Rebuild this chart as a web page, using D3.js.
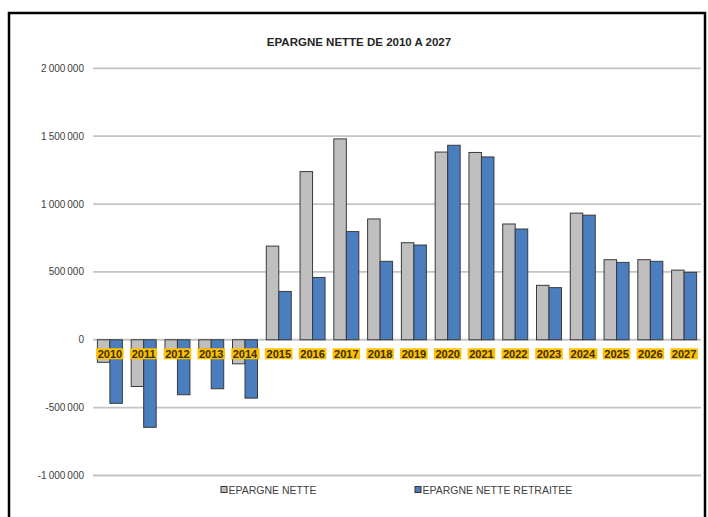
<!DOCTYPE html>
<html>
<head>
<meta charset="utf-8">
<title>Epargne nette</title>
<script src="https://d3js.org/d3.v7.min.js"></script>
<style>
  body { margin: 0; background: #fff; }
  svg { display: block; font-family: "Liberation Sans Narrow", "Liberation Sans", Arial, sans-serif; }
</style>
</head>
<body>
<svg id="chart" width="708" height="517"></svg>
<script>
// values
const years = ["2010","2011","2012","2013","2014","2015","2016","2017","2018",
               "2019","2020","2021","2022","2023","2024","2025","2026","2027"];
const epargneNette = [-166000, -344000, -75000, -70000, -177000, 690000, 1239000, 1480000, 890000,
                      715000, 1383000, 1380000, 853000, 401000, 933000, 590000, 590000, 513000];
const epargneRetraitee = [-468000, -645000, -405000, -361000, -430000, 356000, 459000, 797000, 578000,
                          698000, 1433000, 1347000, 816000, 384000, 918000, 570000, 578000, 497000];
const yTicks = [-1000000, -500000, 0, 500000, 1000000, 1500000, 2000000];
const seriesNames = ["EPARGNE NETTE", "EPARGNE NETTE RETRAITEE"];
const colors = ["#bfbfbf", "#4a7ebf"];

const svg = d3.select("#chart");

// outer frame
svg.append("rect")
    .attr("x", 9).attr("y", 13)
    .attr("width", 696).attr("height", 520)
    .attr("fill", "none")
    .attr("stroke", "#000")
    .attr("stroke-width", 2.5);

svg.append("text")
    .attr("x", 359).attr("y", 46)
    .attr("text-anchor", "middle")
    .attr("font-family", "Liberation Sans, Arial, sans-serif")
    .attr("font-weight", "bold")
    .attr("font-size", 11.5)
    .attr("fill", "#262626")
    .text("EPARGNE NETTE DE 2010 A 2027");

const left = 93, right = 701;
const y = d3.scaleLinear().domain([-1000000, 2000000]).range([475.5, 68.3]);
const x0 = d3.scaleBand().domain(years).range([left, right]).paddingInner(0.26).paddingOuter(0.13);
const x1 = d3.scaleBand().domain([0, 1]).range([0, x0.bandwidth()]);

// "2 000 000", "-500 000"
const fmt = v => d3.format(",")(v).replace(/,/g, "\u202f").replace("\u2212", "-");

// grid + y labels
const yAxis = svg.append("g");
yAxis.selectAll("line")
    .data(yTicks)
    .join("line")
    .attr("x1", left).attr("x2", right)
    .attr("y1", d => y(d)).attr("y2", d => y(d))
    .attr("stroke", "#c4c4c4")
    .attr("stroke-width", 1.8);
yAxis.selectAll("text")
    .data(yTicks)
    .join("text")
    .attr("x", 84)
    .attr("y", d => y(d) + 3.5)
    .attr("text-anchor", "end")
    .attr("font-size", 10)
    .attr("fill", "#404040")
    .text(d => fmt(d));

// bars
const series = [epargneNette, epargneRetraitee];
series.forEach((vals, si) => {
    svg.append("g")
        .selectAll("rect")
        .data(vals)
        .join("rect")
        .attr("x", (d, i) => x0(years[i]) + x1(si))
        .attr("width", x1.bandwidth())
        .attr("y", d => y(Math.max(0, d)))
        .attr("height", d => Math.abs(y(d) - y(0)))
        .attr("fill", colors[si])
        .attr("stroke", "#3a3a3a")
        .attr("stroke-width", 1);
});

// category labels on yellow boxes
const labels = svg.append("g");
years.forEach(yr => {
    const cx = x0(yr) + x0.bandwidth() / 2;
    const g = labels.append("g");
    const t = g.append("text")
        .attr("x", cx).attr("y", y(0) + 18)
        .attr("text-anchor", "middle")
        .attr("font-weight", "bold")
        .attr("font-size", 11)
        .attr("fill", "#3a3000")
        .text(yr);
    const bb = t.node().getBBox();
    g.insert("rect", "text")
        .attr("x", bb.x - 1.5).attr("y", bb.y + 0.5)
        .attr("width", bb.width + 3).attr("height", bb.height - 1)
        .attr("fill", "#ffc000");
});

// legend
const legendX = [221, 415];
seriesNames.forEach((name, i) => {
    svg.append("rect")
        .attr("x", legendX[i]).attr("y", 486.5)
        .attr("width", 6).attr("height", 6)
        .attr("fill", colors[i])
        .attr("stroke", "#333")
        .attr("stroke-width", 1);
    svg.append("text")
        .attr("x", legendX[i] + 7.5).attr("y", 493.5)
        .attr("font-size", 10.5)
        .attr("fill", "#404040")
        .text(name);
});
</script>
</body>
</html>
